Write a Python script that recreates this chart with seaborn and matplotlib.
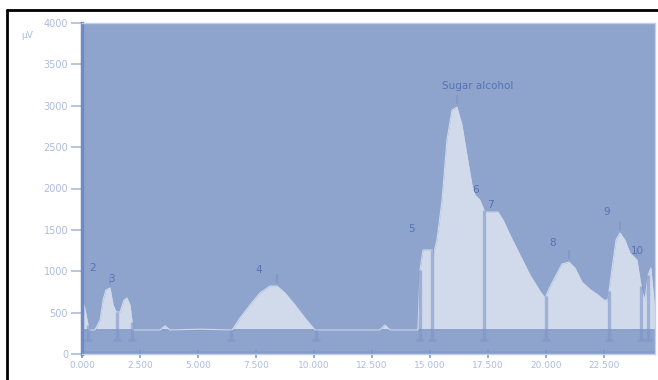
import numpy as np
import pandas as pd
import matplotlib
matplotlib.use("Agg")
import matplotlib.pyplot as plt
from matplotlib.lines import Line2D
import seaborn as sns

# Chromatogram trace: retention time (min) and detector response (µV)
time = [0.00, 0.09, 0.22, 0.30, 0.56, 0.78, 0.91, 1.03, 1.21, 1.34, 1.47, 1.64,
        1.81, 1.94, 2.07, 2.20, 3.36, 3.58, 3.79, 5.09, 6.47, 6.81, 7.24, 7.67,
        8.10, 8.40, 8.75, 9.18, 9.61, 10.04, 12.84, 13.06, 13.28, 14.48, 14.57,
        14.70, 15.09, 15.15, 15.30, 15.52, 15.73, 15.95, 16.16, 16.38, 16.59,
        16.81, 16.94, 17.15, 17.33, 17.41, 17.93, 18.15, 18.45, 18.88, 19.31,
        19.74, 19.96, 20.17, 20.43, 20.69, 20.99, 21.25, 21.55, 21.90, 22.24,
        22.50, 22.67, 22.84, 23.02, 23.19, 23.40, 23.62, 23.92, 24.14, 24.27,
        24.40, 24.52, 24.65, 24.74]
signal = [290, 592, 411, 290, 290, 411, 652, 773, 797, 592, 507, 507,
          652, 676, 592, 290, 290, 340, 290, 300, 290, 435, 592, 737,
          821, 821, 737, 592, 435, 290, 290, 350, 290, 290, 1015,
          1256, 1256, 1200, 1377, 1860, 2585, 2948, 2984, 2766, 2404,
          2042, 1921, 1860, 1740, 1715, 1715, 1619, 1438, 1196, 954,
          760, 676, 809, 950, 1087, 1111, 1039, 870, 780, 713,
          652, 652, 1015, 1377, 1462, 1377, 1220, 1136, 749, 652,
          950, 1039, 652, 290]
baseline = 290

# Peak boundary drop lines (min)
drop_times = [0.26, 1.51, 2.16, 6.42, 10.09, 14.57, 15.09, 17.33, 20.0, 22.72, 24.1, 24.4]
# Apex markers (min)
apex_times = [1.21, 8.40, 16.16, 20.99, 23.19, 23.92]

# Peak labels
peak_names = ["2", "3", "4", "5", "Sugar alcohol", "6", "7", "8", "9", "10"]
peak_label_t = [0.47, 1.29, 7.63, 14.22, 17.07, 16.98, 17.59, 20.30, 22.63, 23.92]
peak_label_v = [1039, 906, 1015, 1510, 3238, 1981, 1800, 1341, 1715, 1244]

x_ticks = [0, 2.5, 5, 7.5, 10, 12.5, 15, 17.5, 20, 22.5]
y_ticks = [0, 500, 1000, 1500, 2000, 2500, 3000, 3500, 4000]

df = pd.DataFrame({"time": time, "signal": signal})

sns.set_theme(style="white")
plt.rcParams["font.family"] = ["DejaVu Sans"]

fig = plt.figure(figsize=(6.58, 3.80), dpi=100)
ax = fig.add_axes([82 / 658, 26 / 380, 573 / 658, 331 / 380])

bg = "#8ea4cd"
fill_c = "#d1daeb"
mark_c = "#7e96c8"
lab_c = "#5672b6"
tick_c = "#adbbdd"

ax.set_facecolor(bg)
ax.axhspan(0, 35, color="#869dc9", lw=0, zorder=0)

ax.fill_between(df["time"], baseline, df["signal"], color=fill_c, lw=0, zorder=1)
sns.lineplot(data=df, x="time", y="signal", ax=ax, color=fill_c, lw=0.8, zorder=2)
ax.axhline(baseline, color="#8199c6", lw=1.2, zorder=1.5)

sig_at = np.interp(drop_times, time, signal)
ax.vlines(drop_times, 170, sig_at, color=mark_c, lw=2.4, alpha=0.6, zorder=3)
ax.hlines([170] * len(drop_times), np.array(drop_times) - 0.17,
          np.array(drop_times) + 0.17, color=mark_c, lw=2.0, alpha=0.6, zorder=3)

apex_v = np.interp(apex_times, time, signal)
ax.vlines(apex_times, apex_v + 40, apex_v + 150, color=mark_c, lw=1.4, alpha=0.7, zorder=3)

for name, t, v in zip(peak_names, peak_label_t, peak_label_v):
    ax.text(t, v, name, color=lab_c, fontsize=7.5, ha="center", va="center", zorder=4)

ax.set_xlim(0, 24.7)
ax.set_ylim(0, 4000)
ax.set_xticks(x_ticks)
ax.set_xticklabels([f"{t:.3f}" for t in x_ticks])
ax.set_yticks(y_ticks)
ax.set_yticklabels([str(v) for v in y_ticks])
ax.set_xlabel("")
ax.set_ylabel("")
ax.tick_params(axis="y", direction="out", length=8, width=1.2, colors=tick_c,
               labelsize=7, pad=2, left=True)
ax.tick_params(axis="x", direction="inout", length=6, width=1.2, colors=mark_c,
               labelcolor=tick_c, labelsize=6.5, pad=2, bottom=True)

for side in ["top", "right", "bottom"]:
    ax.spines[side].set_color("#c3cee8")
    ax.spines[side].set_linewidth(1)
ax.spines["left"].set_color("#6f8bc3")
ax.spines["left"].set_linewidth(2.5)

fig.text(27 / 658, 1 - 36 / 380, "µV", color=tick_c, fontsize=6.5, ha="center", va="center")

# Figure frame
fig.add_artist(Line2D([7 / 658, 1.0], [1 - 10 / 380, 1 - 10 / 380], color="black", lw=2))
fig.add_artist(Line2D([7 / 658, 7 / 658], [0.0, 1 - 10 / 380], color="black", lw=2))

fig.savefig("out.png", dpi=100)
